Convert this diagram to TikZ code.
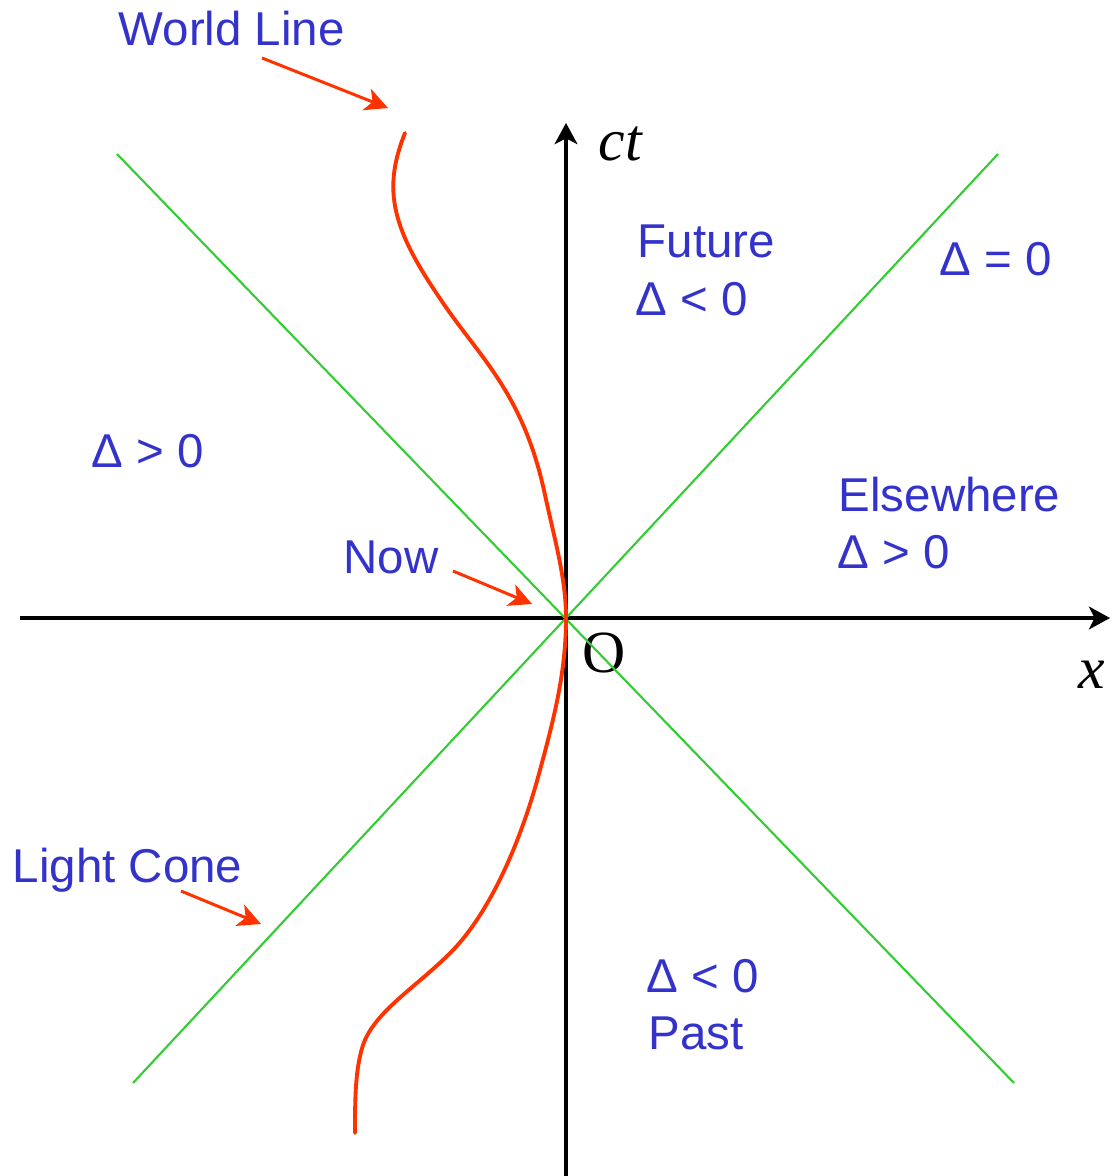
\documentclass[tikz,border=0pt]{standalone}
\usepackage{fontspec}
\setmainfont{Liberation Sans}
\newfontfamily\timesfont{Liberation Serif}
\usetikzlibrary{arrows.meta}
\definecolor{lblblue}{RGB}{51,51,204}
\definecolor{wlred}{RGB}{255,51,0}
\definecolor{conegreen}{RGB}{51,204,51}

\begin{document}
\begin{tikzpicture}[x=0.01cm, y=-0.01cm,
	axis/.style={line width=0.9pt, -{Stealth[length=6pt, width=6.5pt, inset=1.6pt]}},
	cone/.style={conegreen, line width=0.6pt},
	worldline/.style={wlred, line width=1.1pt, line cap=round},
	pointer/.style={wlred, line width=0.85pt, -{Stealth[length=6.5pt, width=6.5pt, inset=1.8pt]}},
	lbl/.style={text=lblblue, font=\fontsize{13.5}{16}\selectfont, inner sep=0pt, anchor=base west},
	sym/.style={font=\timesfont\fontsize{17}{20}\selectfont, inner sep=0pt, anchor=base west}]
	\useasboundingbox (0, 0) rectangle (1112, 1176);
	% Axes:
	\coordinate (O) at (566, 618);
	\coordinate (xstart) at (20, 618);
	\coordinate (xend) at (1110, 618);
	\coordinate (tstart) at (566, 1176);
	\coordinate (tend) at (566, 123);
	\draw[axis] (xstart) -- (xend);
	\draw[axis] (tstart) -- (tend);
	\node[sym] (ct) at (598, 160) {\itshape ct};
	\node[sym] (xlbl) at (1078, 688) {\itshape x};
	\node[sym] (olbl) at (582, 672) {O};
	% Light cone:
	\coordinate (ctl) at (117, 154);
	\coordinate (cbr) at (1014, 1083);
	\coordinate (ctr) at (998, 154);
	\coordinate (cbl) at (133, 1083);
	\draw[cone] (ctl) -- (cbr);
	\draw[cone] (ctr) -- (cbl);
	% World line:
	\coordinate (wltop) at (405, 133);
	\coordinate (wlbot) at (355, 1133);
	\draw[worldline] (wltop) .. controls (380, 195) and (395, 235) .. (450, 313)
		.. controls (485, 362) and (525, 400) .. (545, 495)
		.. controls (556, 545) and (566, 580) .. (O)
		.. controls (566, 670) and (555, 715) .. (540, 770)
		.. controls (520, 845) and (490, 910) .. (455, 948)
		.. controls (420, 985) and (375, 1010) .. (363, 1045)
		.. controls (355, 1070) and (355, 1100) .. (wlbot);
	% Labels:
	\node[lbl] (worldlbl) at (118, 46) {World Line};
	\node[lbl] (future) at (637, 258) {Future};
	\node[lbl] (futdelta) at (635, 315) {Δ < 0};
	\node[lbl] (nulldelta) at (939, 275) {Δ = 0};
	\node[lbl] (leftdelta) at (91, 467) {Δ > 0};
	\node[lbl] (elsewhere) at (838, 511) {Elsewhere};
	\node[lbl] (elsedelta) at (837, 568) {Δ > 0};
	\node[lbl] (now) at (343, 573) {Now};
	\node[lbl] (conelbl) at (12, 882) {Light Cone};
	\node[lbl] (pastdelta) at (646, 992) {Δ < 0};
	\node[lbl] (past) at (648, 1049) {Past};
	% Pointers:
	\coordinate (wlfrom) at (262, 58);
	\coordinate (wlto) at (388, 108);
	\coordinate (nowfrom) at (453, 571);
	\coordinate (nowto) at (532, 604);
	\coordinate (conefrom) at (181, 891);
	\coordinate (coneto) at (261, 924);
	\draw[pointer] (wlfrom) -- (wlto);
	\draw[pointer] (nowfrom) -- (nowto);
	\draw[pointer] (conefrom) -- (coneto);
\end{tikzpicture}
\end{document}
